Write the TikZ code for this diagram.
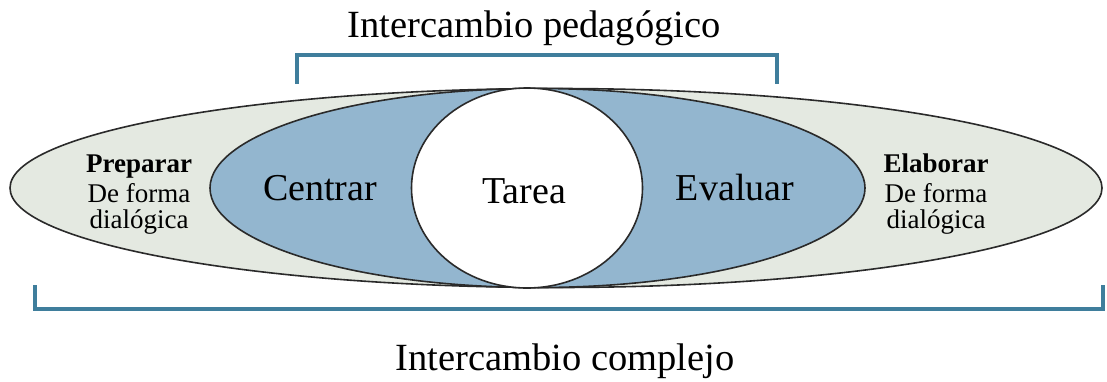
\documentclass[tikz,border=0pt]{standalone}
\usepackage{fontspec}
\setmainfont{Liberation Serif}
\usetikzlibrary{shapes.geometric}
\definecolor{outerfill}{HTML}{E4E9E1}
\definecolor{bluefill}{HTML}{93B6CF}
\definecolor{bracketcol}{HTML}{3F7E9C}
\definecolor{edgecol}{HTML}{2A2A2A}
\tikzset{
  oval/.style={ellipse, draw=edgecol, line width=1.6pt, inner sep=0pt},
  bracket/.style={draw=bracketcol, line width=4.5pt, line cap=rect, line join=miter},
  biglabel/.style={font=\fontsize{38}{40}\selectfont, inner sep=0pt},
  title/.style={font=\fontsize{38.5}{40}\selectfont, inner sep=0pt},
  sidelabel/.style={font=\fontsize{27}{28}\selectfont, align=center, inner sep=0pt}
}
\begin{document}
\begin{tikzpicture}[x=1pt,y=-1pt]
\useasboundingbox (0,0) rectangle (1107,381);
% ellipses
\node[oval, fill=outerfill, minimum width=1092pt, minimum height=199pt] (outer) at (556,188) {};
\node[oval, fill=bluefill, minimum width=655pt, minimum height=199pt] (mid) at (537.5,188) {};
\node[oval, fill=white, minimum width=231pt, minimum height=200pt] (task) at (527,188) {};
% labels
\node[biglabel, anchor=base] (tarea) at (524,203) {Tarea};
\node[biglabel, anchor=base] (centrar) at (320,200) {Centrar};
\node[biglabel, anchor=base] (evaluar) at (735,200) {Evaluar};
\node[sidelabel, anchor=base] (prep) at (139,172) {\textbf{Preparar}};
\node[sidelabel, anchor=base] (prep2) at (139,202) {De forma};
\node[sidelabel, anchor=base] (prep3) at (139,228) {dialógica};
\node[sidelabel, anchor=base] (elab) at (936,172) {\textbf{Elaborar}};
\node[sidelabel, anchor=base] (elab2) at (936,202) {De forma};
\node[sidelabel, anchor=base] (elab3) at (936,228) {dialógica};
% brackets
\coordinate (t1) at (297,82);
\coordinate (t2) at (297,55);
\coordinate (t3) at (777,55);
\coordinate (t4) at (777,82);
\draw[bracket] (t1) -- (t2) -- (t3) -- (t4);
\coordinate (b1) at (35,287);
\coordinate (b2) at (35,309);
\coordinate (b3) at (1103,309);
\coordinate (b4) at (1103,287);
\draw[bracket] (b1) -- (b2) -- (b3) -- (b4);
% titles
\node[title, anchor=base] (ped) at (534,37) {Intercambio pedagógico};
\node[title, anchor=base] (comp) at (565,370) {Intercambio complejo};
\end{tikzpicture}
\end{document}
